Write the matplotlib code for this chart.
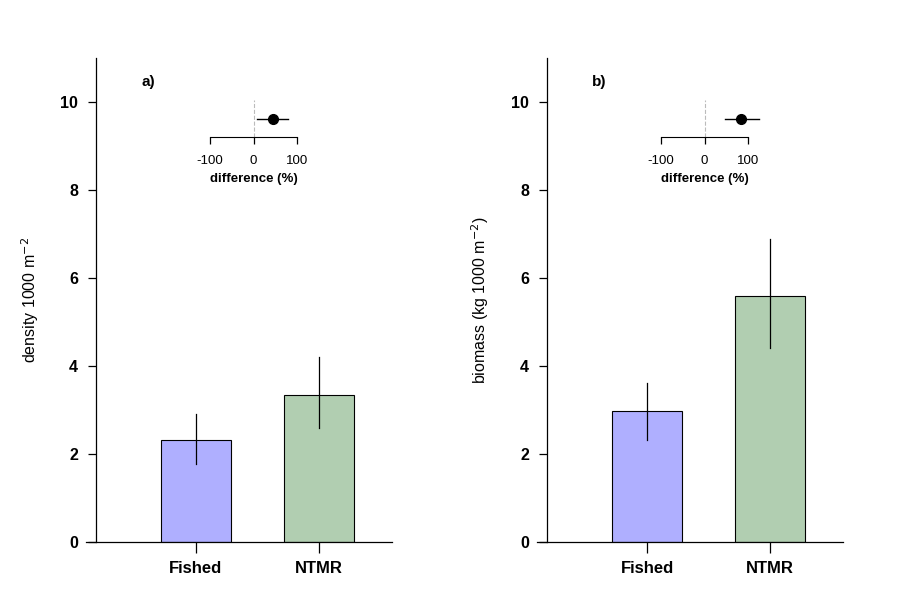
import matplotlib.pyplot as plt

plt.rcParams['font.family'] = ['Liberation Sans', 'DejaVu Sans']
plt.rcParams['axes.unicode_minus'] = False

groups = ['Fished', 'NTMR']
bar_colors = ['#afafff', '#b1ceb1']

density = [2.32, 3.35]
density_lo = [1.77, 2.59]
density_hi = [2.91, 4.20]
density_diff = 44
density_diff_ci = [9, 80]

biomass = [2.98, 5.58]
biomass_lo = [2.32, 4.41]
biomass_hi = [3.61, 6.88]
biomass_diff = 83
biomass_diff_ci = [46, 126]

panels = [
    dict(x0=86, vals=density, lo=density_lo, hi=density_hi, diff=density_diff,
         ci=density_diff_ci, label='a)', ylabel='density 1000 m$^{-2}$', ylab_x=30),
    dict(x0=537, vals=biomass, lo=biomass_lo, hi=biomass_hi, diff=biomass_diff,
         ci=biomass_diff_ci, label='b)', ylabel='biomass (kg 1000 m$^{-2}$)', ylab_x=480),
]

W, H = 900, 600
fig = plt.figure(figsize=(9, 6), dpi=100)

px = 123.0  # pixels per category unit
for p in panels:
    x0 = p['x0']
    # axes from x0 to x0+306 px, y from 542 to 58 px
    ax = fig.add_axes([x0 / W, (H - 542) / H, 306 / W, 484 / H])
    xs = [1, 2]
    ax.bar(xs, p['vals'], width=0.57, color=bar_colors, edgecolor='black', linewidth=0.8, zorder=2)
    for x, lo, hi in zip(xs, p['lo'], p['hi']):
        ax.plot([x, x], [lo, hi], color='black', lw=0.9, zorder=3)
    ax.set_xlim(1 - 110 / px, 1 + 196 / px)
    ax.set_ylim(0, 11)
    ax.spines['top'].set_visible(False)
    ax.spines['right'].set_visible(False)
    ax.spines['left'].set_position(('data', 1 - 100 / px))
    ax.spines['left'].set_linewidth(0.9)
    ax.spines['bottom'].set_linewidth(0.9)
    ax.set_yticks([0, 2, 4, 6, 8, 10])
    ax.set_xticks(xs)
    ax.set_xticklabels(groups, fontweight='bold', fontsize=12)
    for t in ax.get_yticklabels():
        t.set_fontweight('bold')
        t.set_fontsize(11.5)
    ax.tick_params(axis='y', length=6, width=0.9, pad=7)
    ax.tick_params(axis='x', length=8, width=0.9, pad=6)
    fig.text(p['ylab_x'] / W, 0.5, p['ylabel'], rotation=90, ha='center', va='center', fontsize=11.5)
    fig.text((x0 + 55) / W, (H - 82) / H, p['label'], fontweight='bold', fontsize=11, ha='left', va='center')

    # inset: percentage difference
    ix0 = x0 + 124
    ins = fig.add_axes([ix0 / W, (H - 137) / H, 87 / W, 37 / H])
    ins.set_xlim(-100, 100)
    ins.set_ylim(0, 1)
    ins.axvline(0, color='#bbbbbb', ls='--', lw=0.8)
    ins.plot(p['ci'], [0.49, 0.49], color='black', lw=1, clip_on=False)
    ins.plot([p['diff']], [0.49], 'o', color='black', ms=7, clip_on=False)
    for s in ['top', 'right', 'left']:
        ins.spines[s].set_visible(False)
    ins.set_yticks([])
    ins.set_xticks([-100, 0, 100])
    ins.tick_params(axis='x', length=5, width=0.9, labelsize=9.5, pad=8)
    ins.patch.set_alpha(0)
    ins.set_xlabel('difference (%)', fontsize=9.5, fontweight='bold', labelpad=4)

fig.savefig('out.png', dpi=100)
